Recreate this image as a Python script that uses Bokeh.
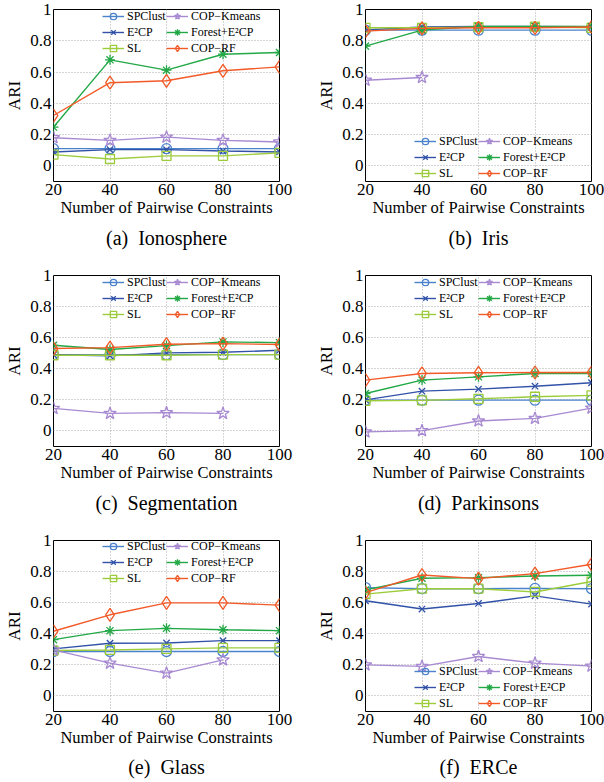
from bokeh.plotting import figure
from bokeh.models import Legend, LegendItem, Title, FixedTicker, Range1d
from bokeh.layouts import column, row
from bokeh.embed import file_html
from bokeh.resources import INLINE

nan = float("nan")

constraints = [20, 40, 60, 80, 100]
y_ticks = [0, 0.2, 0.4, 0.6, 0.8, 1]
y_tick_labels = {0: "0", 0.2: "0.2", 0.4: "0.4", 0.6: "0.6", 0.8: "0.8", 1: "1"}

methods = ["SPClust", "E²CP", "SL", "COP−Kmeans", "Forest+E²CP", "COP−RF"]

# ARI values per dataset, per method (order as in `methods`)
ionosphere_spclust = [0.11, 0.11, 0.11, 0.11, 0.11]
ionosphere_e2cp = [0.089, 0.104, 0.104, 0.095, 0.089]
ionosphere_sl = [0.072, 0.044, 0.064, 0.064, 0.083]
ionosphere_copkmeans = [0.18, 0.163, 0.184, 0.163, 0.153]
ionosphere_forest = [0.248, 0.678, 0.612, 0.714, 0.725]
ionosphere_coprf = [0.322, 0.532, 0.544, 0.608, 0.633]

iris_spclust = [0.868, 0.868, 0.868, 0.868, 0.868]
iris_e2cp = [0.870, 0.888, 0.892, 0.892, 0.890]
iris_sl = [0.883, 0.883, 0.887, 0.890, 0.883]
iris_copkmeans = [0.548, 0.565, nan, nan, nan]
iris_forest = [0.766, 0.868, 0.892, 0.892, 0.892]
iris_coprf = [0.862, 0.879, 0.883, 0.883, 0.888]

segmentation_spclust = [0.491, 0.491, 0.491, 0.491, 0.491]
segmentation_e2cp = [0.490, 0.483, 0.502, 0.506, 0.519]
segmentation_sl = [0.487, 0.487, 0.487, 0.491, 0.491]
segmentation_copkmeans = [0.145, 0.113, 0.118, 0.113, nan]
segmentation_forest = [0.551, 0.524, 0.549, 0.573, 0.568]
segmentation_coprf = [0.530, 0.536, 0.558, 0.562, 0.556]

parkinsons_spclust = [0.198, 0.198, 0.198, 0.198, 0.198]
parkinsons_e2cp = [0.200, 0.256, 0.269, 0.288, 0.310]
parkinsons_sl = [0.194, 0.197, 0.207, 0.220, 0.229]
parkinsons_copkmeans = [-0.006, 0.002, 0.064, 0.081, 0.147]
parkinsons_forest = [0.241, 0.327, 0.348, 0.370, 0.370]
parkinsons_coprf = [0.327, 0.370, 0.374, 0.376, 0.376]

glass_spclust = [0.286, 0.286, 0.286, 0.286, 0.286]
glass_e2cp = [0.303, 0.339, 0.341, 0.356, 0.356]
glass_sl = [0.292, 0.296, 0.303, 0.309, 0.309]
glass_copkmeans = [0.296, 0.211, 0.147, 0.232, nan]
glass_forest = [0.362, 0.420, 0.435, 0.426, 0.420]
glass_coprf = [0.416, 0.522, 0.599, 0.599, 0.584]

erce_spclust = [0.697, 0.690, 0.690, 0.692, 0.690]
erce_e2cp = [0.612, 0.559, 0.595, 0.644, 0.591]
erce_sl = [0.655, 0.690, 0.690, 0.669, 0.736]
erce_copkmeans = [0.200, 0.190, 0.254, 0.211, 0.192]
erce_forest = [0.682, 0.757, 0.761, 0.772, 0.776]
erce_coprf = [0.665, 0.778, 0.755, 0.787, 0.847]

captions = ["(a)\u00a0 Ionosphere", "(b)\u00a0 Iris", "(c)\u00a0 Segmentation",
            "(d)\u00a0 Parkinsons", "(e)\u00a0 Glass", "(f)\u00a0 ERCe"]

datasets = [
    [ionosphere_spclust, ionosphere_e2cp, ionosphere_sl, ionosphere_copkmeans, ionosphere_forest, ionosphere_coprf],
    [iris_spclust, iris_e2cp, iris_sl, iris_copkmeans, iris_forest, iris_coprf],
    [segmentation_spclust, segmentation_e2cp, segmentation_sl, segmentation_copkmeans, segmentation_forest, segmentation_coprf],
    [parkinsons_spclust, parkinsons_e2cp, parkinsons_sl, parkinsons_copkmeans, parkinsons_forest, parkinsons_coprf],
    [glass_spclust, glass_e2cp, glass_sl, glass_copkmeans, glass_forest, glass_coprf],
    [erce_spclust, erce_e2cp, erce_sl, erce_copkmeans, erce_forest, erce_coprf],
]

colors = ["#4a82cc", "#3152a8", "#9ccc3c", "#a88ad2", "#22a846", "#f25a28"]
markers = ["circle", "x", "square", "star", "asterisk", "diamond"]
msizes = [10, 9, 9, 13, 10, 13]

FONT = "Liberation Serif"
FRAME_W = 226
legend_top = [True, False, True, True, True, False]

# (border top, frame height, border bottom, caption standoff) per row
row_geom = [(9, 172, 86, 11), (8, 171, 85, 11), (9, 172, 70, 9)]


def make_panel(i):
    col = i % 2
    r = i // 2
    bt, fh, bb, cap_standoff = row_geom[r]
    if col == 0:
        bl, br = 53, 31
    else:
        bl, br = 55, 13
    p = figure(width=bl + FRAME_W + br, height=bt + fh + bb,
               x_range=Range1d(20, 100), y_range=Range1d(-0.1, 1.0),
               output_backend="svg", toolbar_location=None,
               min_border_left=bl, min_border_right=br,
               min_border_top=bt, min_border_bottom=bb)
    p.outline_line_color = "black"
    p.outline_line_width = 1
    p.background_fill_color = "white"
    p.border_fill_color = "white"

    for ax in (p.xaxis[0], p.yaxis[0]):
        ax.axis_line_color = None
        ax.major_tick_line_color = None
        ax.minor_tick_line_color = None
        ax.major_tick_out = 0
        ax.major_tick_in = 0
        ax.minor_tick_out = 0
        ax.minor_tick_in = 0
        ax.major_label_text_font = FONT
        ax.major_label_text_font_size = "17px"
        ax.major_label_text_color = "black"
        ax.axis_label_text_font = FONT
        ax.axis_label_text_font_style = "normal"
        ax.axis_label_text_color = "black"
    p.xaxis.ticker = FixedTicker(ticks=constraints)
    p.yaxis.ticker = FixedTicker(ticks=y_ticks)
    p.yaxis.major_label_overrides = y_tick_labels
    p.xaxis.major_label_standoff = 2
    p.yaxis.major_label_standoff = 2
    p.xaxis.axis_label = "Number of Pairwise Constraints"
    p.xaxis.axis_label_text_font_size = "16.5px"
    p.xaxis.axis_label_standoff = 0
    p.yaxis.axis_label = "ARI"
    p.yaxis.axis_label_text_font_size = "17px"
    p.yaxis.axis_label_standoff = 3

    for g in (p.xgrid[0], p.ygrid[0]):
        g.grid_line_color = "#a8a8a8"
        g.grid_line_dash = "1 2"
        g.grid_line_width = 1

    items = []
    for k in range(6):
        vals = datasets[i][k]
        ln = p.line(constraints, vals, line_color=colors[k], line_width=1.4)
        sc = p.scatter(constraints, vals, marker=markers[k], size=msizes[k],
                       line_color=colors[k], fill_color=None, line_width=1.3)
        items.append(LegendItem(label=methods[k], renderers=[ln, sc]))

    vy = fh - 47 if legend_top[i] else 0
    for c, vx in enumerate((49, 113)):
        lg = Legend(items=items[3 * c:3 * c + 3], location=(vx, vy),
                    orientation="vertical",
                    label_text_font=FONT, label_text_font_size="12px",
                    label_text_color="black",
                    glyph_width=22, glyph_height=16, label_height=16,
                    label_standoff=3, spacing=0, padding=0, margin=0,
                    border_line_color=None, background_fill_alpha=0)
        p.add_layout(lg, "center")

    cap = Title(text=captions[i], align="center", text_font=FONT,
                text_font_size="20px", text_font_style="normal",
                text_color="black", standoff=cap_standoff)
    p.add_layout(cap, "below")
    return p


panels = [make_panel(i) for i in range(6)]
layout = column(row(panels[0], panels[1]), row(panels[2], panels[3]), row(panels[4], panels[5]))

open("out.html", "w").write(file_html(layout, INLINE))
